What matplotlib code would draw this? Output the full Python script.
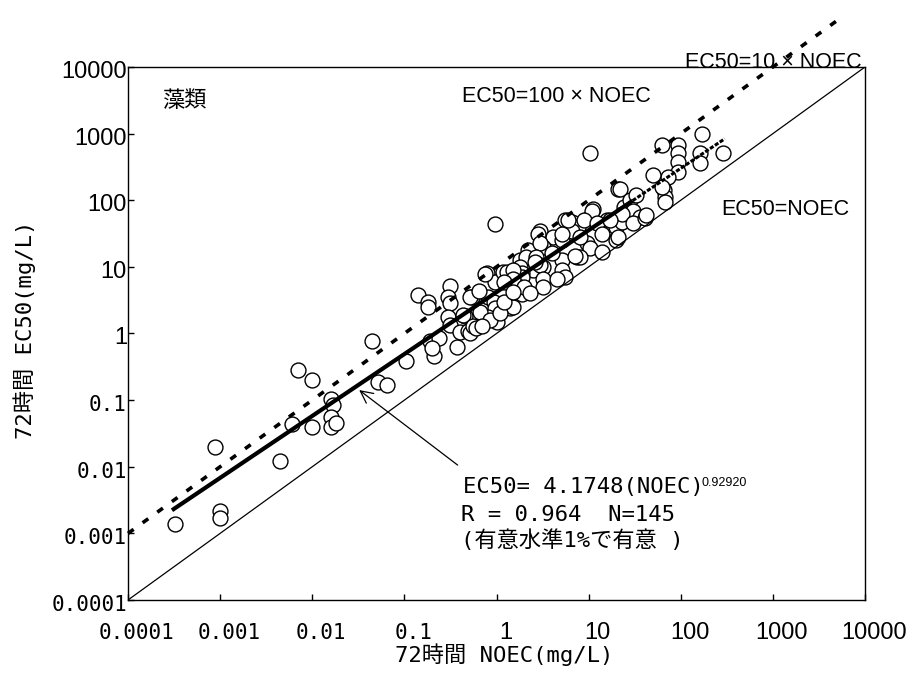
import matplotlib
matplotlib.use("Agg")
import matplotlib.pyplot as plt
import matplotlib.transforms as mtransforms
from matplotlib import font_manager
from matplotlib.ticker import NullLocator
import numpy as np

# 72h NOEC vs EC50 for algae (mg/L)
noec = [0.00032, 0.001, 0.001, 0.00088, 0.0045, 0.006, 0.007, 0.01, 0.01, 0.016,
        0.017, 0.016, 0.016, 0.018, 0.045, 0.052, 0.065, 0.105, 0.21, 0.19,
        0.24, 0.37, 0.14, 0.18, 0.18, 0.31, 0.30, 0.31, 0.54, 0.62,
        0.46, 0.30, 0.31, 0.40, 0.49, 0.79, 0.96, 1.18, 0.81, 0.93,
        0.96, 0.80, 1.0, 0.66, 1.4, 0.96, 0.52, 0.75, 1.8, 1.5,
        0.43, 0.85, 0.52, 1.3, 2.5, 3.2, 5.2, 5.2, 7.4, 9.7,
        10.3, 5.6, 8.1, 21, 11.2, 10.3, 5.6, 6.6, 7.6, 16,
        18.5, 20, 3.0, 4.1, 5.1, 6.6, 3.2, 2.2, 2.1, 1.8,
        1.9, 1.9, 1.8, 1.9, 1.5, 1.5, 1.2, 2.0, 2.8, 3.0,
        5.2, 2.7, 3.0, 3.2, 3.2, 7.1, 8.1, 10.9, 6.0, 9.0,
        12.2, 14, 20, 23, 24, 170, 63, 94, 94, 94,
        160, 160, 290, 93, 73, 50, 65, 67, 67, 22,
        28, 30, 23, 17, 36, 30, 21, 10.4, 41, 33,
        42, 63, 0.55, 0.2, 0.6, 0.7, 1.1, 1.2, 2.3, 4.5,
        14, 2.6, 4.0, 0.65, 1.5]
ec50 = [0.0014, 0.0022, 0.0017, 0.02, 0.012, 0.044, 0.28, 0.2, 0.04, 0.105,
        0.085, 0.056, 0.04, 0.046, 0.77, 0.19, 0.17, 0.39, 0.46, 0.77,
        0.86, 0.63, 3.8, 3.0, 2.5, 5.2, 3.5, 2.9, 3.5, 2.0,
        1.8, 1.75, 1.35, 1.05, 1.1, 8.1, 6.0, 8.3, 3.5, 3.0,
        2.4, 1.75, 1.5, 2.07, 2.4, 44, 3.5, 7.8, 12.7, 2.5,
        1.9, 1.6, 1.0, 8.3, 9, 10, 12.7, 9, 14, 23,
        19, 7, 14, 148, 74, 56, 51, 47, 40, 51,
        38, 25, 34, 28, 25, 34, 20, 18, 14, 10,
        8, 7, 5, 3.9, 9, 6.5, 6, 5, 31, 23,
        31, 14, 10.5, 6.5, 5, 14.5, 28, 70, 51, 51,
        46, 31, 40, 47, 78, 1000, 680, 680, 510, 380,
        510, 360, 510, 270, 225, 240, 144, 112, 95, 150,
        100, 70, 63, 51, 56, 45, 28, 510, 55, 120,
        60, 160, 1.3, 0.6, 1.2, 1.3, 2.0, 3.0, 4.0, 6.5,
        17, 12, 16, 4.3, 4.2]

fit_a, fit_b = 4.1748, 0.92920
fit_start, fit_solid_end, fit_end = 0.0003, 30, 300
ratio_line = 10
ratio_line_end = 5000

decades = [1e-4, 1e-3, 1e-2, 1e-1, 1, 10, 100, 1000, 10000]
tick_labels = ["0.0001", "0.001", "0.01", "0.1", "1", "10", "100", "1000", "10000"]

names = {f.name for f in font_manager.fontManager.ttflist}
narrow = "Liberation Sans Narrow" if "Liberation Sans Narrow" in names else "Liberation Sans"
mono = ["DejaVu Sans Mono", "Noto Sans CJK JP"]
plt.rcParams["lines.scale_dashes"] = False

fig = plt.figure(figsize=(9.13, 6.75), dpi=100)
ax = fig.add_axes([128 / 913, 75 / 675, 737 / 913, 533 / 675])
ax.set_xscale("log")
ax.set_yscale("log")
ax.set_xlim(decades[0], decades[-1])
ax.set_ylim(decades[0], decades[-1])

ax.scatter(noec, ec50, s=115, facecolors="white", edgecolors="black", linewidths=1.0, zorder=2)

# EC50 = NOEC
ax.plot([decades[0], decades[-1]], [decades[0], decades[-1]], color="black", lw=0.9, zorder=3)

# EC50 = 10 x NOEC (runs out past the top)
xr = np.logspace(np.log10(decades[0]), np.log10(ratio_line_end), 100)
ax.plot(xr, ratio_line * xr, color="black", lw=2.6, dashes=(5, 8), clip_on=False, zorder=3)

# regression line
xf = np.logspace(np.log10(fit_start), np.log10(fit_solid_end), 100)
ax.plot(xf, fit_a * xf ** fit_b, color="black", lw=3.0, solid_capstyle="butt", zorder=4)
xf2 = np.logspace(np.log10(fit_solid_end), np.log10(fit_end), 50)
ax.plot(xf2, fit_a * xf2 ** fit_b, color="black", lw=2.2, dashes=(3, 1.2), zorder=4)

ax.xaxis.set_minor_locator(NullLocator())
ax.yaxis.set_minor_locator(NullLocator())
ax.set_xticks(decades)
ax.set_yticks(decades)
ax.tick_params(which="both", direction="in", length=4, width=1,
               labelbottom=False, labelleft=False)
for sp in ax.spines.values():
    sp.set_linewidth(1.0)

# tick labels drawn by hand, shifted like the original
xtr = mtransforms.blended_transform_factory(ax.transData, ax.transAxes)
ytr = mtransforms.blended_transform_factory(ax.transAxes, ax.transData)
for v, lab in zip(decades, tick_labels):
    fam = mono if "." in lab else narrow
    fs = 15 if "." in lab else 17
    ax.text(v, 0, lab, transform=xtr + mtransforms.ScaledTranslation(0.09, -0.33, fig.dpi_scale_trans),
            ha="center", va="center", fontsize=fs, family=fam, clip_on=False)
    ax.text(0, v, lab, transform=ytr + mtransforms.ScaledTranslation(-0.01, -0.05, fig.dpi_scale_trans),
            ha="right", va="center", fontsize=fs, family=fam, clip_on=False)

# annotations
ax.text(0.0475, 0.938, "藻類", transform=ax.transAxes, fontsize=16,
        family=["Noto Sans CJK JP"], ha="left", va="center")
ax.text(0.453, 0.944, "EC50=100 × NOEC", transform=ax.transAxes, fontsize=15.5,
        family=narrow, ha="left", va="center")
ax.text(0.756, 1.008, "EC50=10 × NOEC", transform=ax.transAxes, fontsize=15.5,
        family=narrow, ha="left", va="center", zorder=5)
ax.text(0.805, 0.732, "EC50=NOEC", transform=ax.transAxes, fontsize=15.5,
        family=narrow, ha="left", va="center")

eq1 = ax.text(0.454, 0.212, "EC50= 4.1748(NOEC)", transform=ax.transAxes, fontsize=16,
              family=mono, ha="left", va="center")
ax.text(0.452, 0.160, "R = 0.964  N=145", transform=ax.transAxes, fontsize=16,
        family=mono, ha="left", va="center")
ax.text(0.452, 0.112, "(有意水準1%で有意 )", transform=ax.transAxes, fontsize=16,
        family=mono, ha="left", va="center")

ax.annotate("", xy=(0.0306, 0.15), xytext=(0.40, 0.01),
            arrowprops=dict(arrowstyle="->", color="black", lw=0.9, mutation_scale=22))

fig.text(504 / 913, 1 - 655 / 675, "72時間 NOEC(mg/L)", fontsize=16, family=mono,
         ha="center", va="center")
fig.text(25 / 913, 1 - 330 / 675, "72時間 EC50(mg/L)", fontsize=16, family=mono,
         ha="center", va="center", rotation=90)

fig.canvas.draw()
bb = eq1.get_window_extent()
fig.text(bb.x1 / 913 - 0.002, (bb.y1 - 6) / 675, "0.92920", fontsize=9, family=narrow,
         ha="left", va="center")

fig.savefig("out.png", dpi=100)
